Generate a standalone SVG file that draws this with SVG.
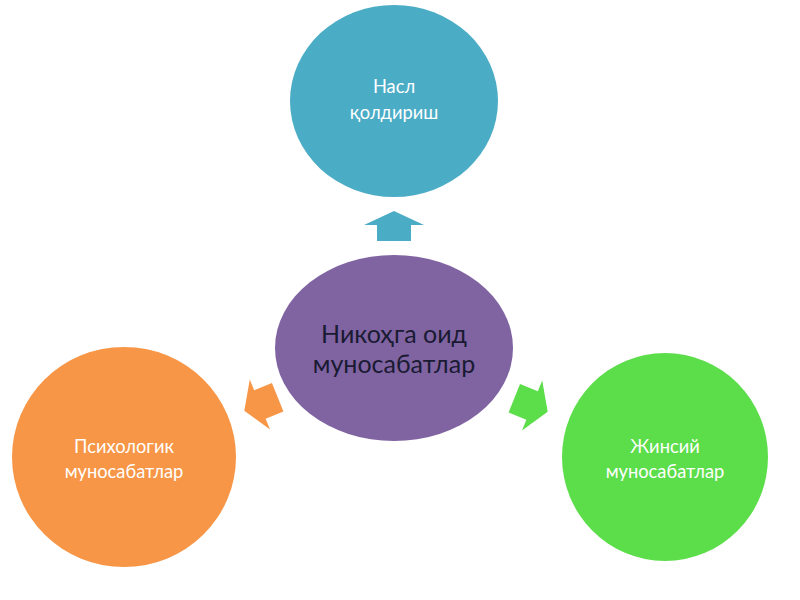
<svg xmlns="http://www.w3.org/2000/svg" width="800" height="600" viewBox="0 0 800 600">
<defs>
<style>
.t{font-family:Lato,"Open Sans","DejaVu Sans",sans-serif;text-anchor:middle}
.w{fill:#ffffff;font-size:18.3px}
.d{fill:#1a1a33;font-size:25px}
</style>
<path id="arr" d="M0,-15 L30,-1 L17,-1 L17,15 L-17,15 L-17,-1 L-30,-1 Z"/>
</defs>
<rect width="800" height="600" fill="#ffffff"/>
<g id="connectors">
<use href="#arr" transform="translate(394,226)" fill="#4BACC6"/>
<use href="#arr" transform="translate(261,404) rotate(-112) scale(0.9,1.2)" fill="#F79646"/>
<use href="#arr" transform="translate(531,405) rotate(112) scale(0.9,1.2)" fill="#5CDD4A"/>
</g>
<g id="top">
<ellipse cx="394" cy="101" rx="104" ry="96" fill="#4BACC6"/>
<text class="t w" x="394" y="93">Насл</text>
<text class="t w" x="394" y="119">қолдириш</text>
</g>
<g id="center">
<ellipse cx="394" cy="348" rx="119" ry="93" fill="#8064A2"/>
<text class="t d" x="394" y="343">Никоҳга оид</text>
<text class="t d" x="394" y="373">муносабатлар</text>
</g>
<g id="left">
<ellipse cx="124" cy="457" rx="112" ry="110" fill="#F79646"/>
<text class="t w" x="124" y="453">Психологик</text>
<text class="t w" x="124" y="478">муносабатлар</text>
</g>
<g id="right">
<ellipse cx="665" cy="457" rx="103" ry="104" fill="#5CDD4A"/>
<text class="t w" x="665" y="453">Жинсий</text>
<text class="t w" x="665" y="478">муносабатлар</text>
</g>
</svg>
